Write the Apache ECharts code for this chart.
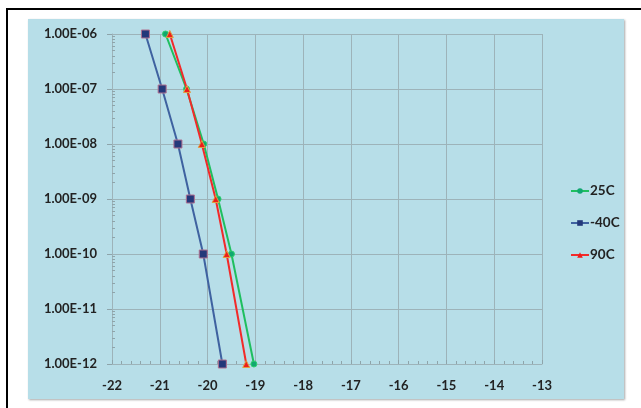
<!DOCTYPE html>
<html>
<head>
<meta charset="utf-8">
<script src="https://cdn.jsdelivr.net/npm/echarts@6/dist/echarts.min.js"></script>
<style>
  html, body { margin: 0; padding: 0; background: #ffffff; }
  #chart { width: 641px; height: 408px; }
</style>
</head>
<body>
<div id="chart"></div>
<script>
// Probability levels (y) shared by every curve
const probLevels = [1e-6, 1e-7, 1e-8, 1e-9, 1e-10, 1e-12];

// x positions per temperature curve
const x25C  = [-20.88, -20.44, -20.08, -19.78, -19.50, -19.03];
const xM40C = [-21.30, -20.95, -20.62, -20.36, -20.09, -19.69];
const x90C  = [-20.79, -20.43, -20.12, -19.83, -19.60, -19.19];

const seriesNames = ['25C', '-40C', '90C'];

// Tick labels of the logarithmic axis, keyed by decade
const yTickValues = [1e-12, 1e-11, 1e-10, 1e-9, 1e-8, 1e-7, 1e-6];
const yTickLabels = ['1.00E-12', '1.00E-11', '1.00E-10', '1.00E-09', '1.00E-08', '1.00E-07', '1.00E-06'];

// Minor (2..9) positions inside each decade, as exponents for the tick-only axis
const yMinorExp = [];
for (let e = -12; e < -6; e++) {
  for (let m = 2; m <= 9; m++) yMinorExp.push(e + Math.log10(m));
}

function pairs(xs) {
  return xs.map((x, i) => [x, probLevels[i]]);
}

function yLabel(v) {
  let best = 0, bestD = Infinity;
  yTickValues.forEach((t, i) => {
    const d = Math.abs(Math.log10(t) - Math.log10(v));
    if (d < bestD) { bestD = d; best = i; }
  });
  return yTickLabels[best];
}

const font = 'Lato, "Open Sans", sans-serif';
const gridColor = '#9db3b9';
const tickColor = '#8ea4aa';

const chart = echarts.init(document.getElementById('chart'), null, { renderer: 'canvas' });

chart.setOption({
  animation: false,
  backgroundColor: '#ffffff',
  graphic: [
    // panel
    {
      type: 'rect', z: -10, silent: true,
      shape: { x: 28, y: 19, width: 596, height: 380 },
      style: { fill: '#b7dee8', shadowColor: 'rgba(0,0,0,0.35)', shadowBlur: 2, shadowOffsetX: 1, shadowOffsetY: 1 }
    },
    // outer frame lines
    { type: 'rect', z: -9, silent: true, shape: { x: 6, y: 8, width: 641, height: 2 }, style: { fill: '#000000' } },
    { type: 'rect', z: -9, silent: true, shape: { x: 6, y: 8, width: 2, height: 400 }, style: { fill: '#000000' } }
  ],
  grid: { left: 112, top: 34, width: 430, height: 330, containLabel: false },
  legend: {
    orient: 'vertical',
    left: 565,
    top: 179,
    itemWidth: 18,
    itemHeight: 7,
    itemGap: 18,
    data: seriesNames.map(n => ({ name: n, itemStyle: { borderWidth: 0 } })),
    textStyle: { fontFamily: font, fontWeight: 'bold', fontSize: 13.5, color: '#222222', padding: [0, 0, 0, -4] }
  },
  xAxis: {
    type: 'value',
    min: -22, max: -13, interval: 1,
    axisLine: { show: true, onZero: false, lineStyle: { color: gridColor, width: 1 } },
    axisTick: { show: true, inside: true, length: 4, lineStyle: { color: tickColor } },
    minorTick: { show: true, splitNumber: 5, length: 3, lineStyle: { color: tickColor } },
    splitLine: { show: true, lineStyle: { color: gridColor, width: 1 } },
    axisLabel: { margin: 15, fontFamily: font, fontWeight: 'bold', fontSize: 13, color: '#222222' }
  },
  yAxis: [
    {
      type: 'log', logBase: 10,
      min: 1e-12, max: 1e-6,
      axisLine: { show: true, lineStyle: { color: gridColor, width: 1 } },
      axisTick: { show: true, length: 5, lineStyle: { color: tickColor } },
      splitLine: { show: true, lineStyle: { color: gridColor, width: 1 } },
      axisLabel: {
        margin: 15, fontFamily: font, fontWeight: 'bold', fontSize: 13, color: '#222222',
        formatter: yLabel
      }
    },
    {
      // tick-only axis carrying the log-distributed minor ticks
      type: 'value',
      min: -12, max: -6,
      position: 'left',
      axisLine: { show: false },
      splitLine: { show: false },
      axisLabel: { show: false },
      axisTick: { show: true, inside: true, length: 3, customValues: yMinorExp, lineStyle: { color: tickColor } }
    }
  ],
  series: [
    {
      name: seriesNames[0], type: 'line', data: pairs(x25C),
      symbol: 'circle', symbolSize: 6,
      lineStyle: { color: '#1fbf5f', width: 2 },
      itemStyle: { color: '#10a870', borderColor: '#2fcf6f', borderWidth: 1 },
      z: 3
    },
    {
      name: seriesNames[1], type: 'line', data: pairs(xM40C),
      symbol: 'rect', symbolSize: 8,
      lineStyle: { color: '#3f62a0', width: 2 },
      itemStyle: { color: '#23387a', borderColor: '#b07090', borderWidth: 1 },
      z: 2
    },
    {
      name: seriesNames[2], type: 'line', data: pairs(x90C),
      symbol: 'triangle', symbolSize: 7,
      lineStyle: { color: '#f22a2a', width: 2 },
      itemStyle: { color: '#ee1c1c', borderColor: '#e0a040', borderWidth: 1 },
      z: 4
    }
  ]
});
</script>
</body>
</html>
